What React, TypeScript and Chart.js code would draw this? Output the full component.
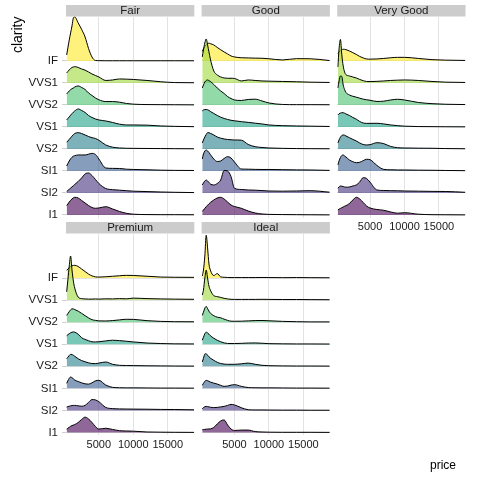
import React, { useEffect, useRef } from "react";
import { Chart, registerables } from "chart.js";

Chart.register(...registerables);
Chart.defaults.font.family = '"Liberation Sans", Arial, Helvetica, sans-serif';

// ---------- data ----------
const CLARITY = ["I1", "SI2", "SI1", "VS2", "VS1", "VVS2", "VVS1", "IF"];
const CUTS = ["Fair", "Good", "Very Good", "Premium", "Ideal"];
const PRICE = [326, 500, 700, 900, 1100, 1300, 1500, 2000, 2500, 3000, 3500, 4000, 4500, 5000, 6000, 7000, 8000, 9000, 10000, 12000, 14000, 16000, 18823];
const PRICE_TICKS = [5000, 10000, 15000];
const FILLS = ["#440154", "#46337E", "#365C8D", "#277F8E", "#1FA187", "#4AC16D", "#9FDA3A", "#FDE725"];

// ridge heights (density, arbitrary units) per clarity, read at PRICE
const FAIR_I1 = [9.5, 11, 13, 14.7, 16, 17.2, 17.7, 17, 14.5, 12, 9.5, 7.5, 6.7, 7, 8.3, 6, 3.5, 1.7, 0.8, 0.4, 0.3, 0.3, 0.2];
const FAIR_SI2 = [1.5, 2.5, 3.7, 4.9, 6.1, 7.3, 8.5, 11.5, 15, 19, 20, 17.5, 13.5, 9.5, 4.5, 3.3, 2.8, 2.3, 1.8, 1.4, 1, 0.7, 0.4];
const FAIR_SI1 = [5, 7.5, 10, 12.2, 13.7, 14.8, 15.3, 16, 16, 16, 16.8, 17.6, 16.5, 12, 3, 2.6, 2.5, 1.8, 1.5, 1.2, 0.8, 0.6, 0.5];
const FAIR_VS2 = [6.7, 8, 9.6, 11.2, 12.8, 14.3, 15.5, 16.3, 15.5, 14, 12.5, 11.3, 10.5, 8.8, 4, 1.8, 1, 0.7, 0.6, 0.5, 0.4, 0.3, 0.2];
const FAIR_VS1 = [7, 8.5, 10, 11.8, 13.3, 14.8, 16, 18, 16.5, 14.5, 11.5, 9.5, 8, 7, 6, 4.5, 2.8, 2, 2, 1.8, 1, 0.6, 0.3];
const FAIR_VVS2 = [11, 12.5, 14, 15.3, 16.3, 17, 18, 19, 17.5, 15.5, 12, 9.5, 7, 5.2, 3.4, 3.4, 2.8, 1.5, 0.8, 0.4, 0.3, 0.2, 0.1];
const FAIR_VVS1 = [10, 11.5, 13, 14.5, 15.5, 16, 16.3, 15.5, 14, 12.8, 11, 9, 7.5, 6, 2.5, 3, 4, 3.8, 3.5, 2.5, 1.2, 0.4, 0.2];
const FAIR_IF = [6, 13, 21, 28, 35, 43, 44, 38, 31.5, 24, 12.5, 4, 0.5, 0.3, 0.2, 0.2, 0.2, 0.2, 0.2, 0.2, 0.2, 0.2, 0.2];

const GOOD_I1 = [3.5, 5, 6.7, 8.3, 9.8, 11.2, 12.5, 15, 17, 17.7, 16, 13, 10, 8.5, 6.7, 4, 2, 1, 0.6, 0.4, 0.3, 0.2, 0.1];
const GOOD_SI2 = [8, 10, 12, 13, 12, 10.5, 9, 8, 9.5, 13, 22.5, 22, 16.5, 4.7, 3.5, 3, 2.8, 2.4, 2, 1.8, 2, 2.3, 0.8];
const GOOD_SI1 = [12, 17, 20, 21, 20, 18.5, 16.5, 12, 9.5, 10, 12.5, 14.3, 13, 9, 2, 1.8, 1.6, 1.5, 1.5, 1.3, 1.1, 1, 0.6];
const GOOD_VS2 = [6, 9, 12, 14.5, 16.3, 16.2, 15.7, 14, 12, 10.8, 10, 9.5, 9.2, 9, 8.8, 4.5, 2.3, 1.5, 1, 0.6, 0.4, 0.3, 0.2];
const GOOD_VS1 = [16, 17, 17.4, 17.5, 17.2, 16.5, 15.5, 13.5, 11.5, 9.8, 8.5, 7.5, 6.7, 6.2, 5.3, 4.6, 3.8, 3, 2, 1.3, 1, 0.8, 0.5];
const GOOD_VVS2 = [17, 20, 23, 24.5, 25, 24.3, 23.5, 20.5, 17, 14, 11.5, 8.4, 6.5, 5, 4.5, 5.5, 5.8, 4, 2, 0.5, 0.3, 0.3, 0.2];
const GOOD_VVS1 = [26, 33, 40, 44, 38, 31, 24, 12, 8, 6, 5, 4.7, 4.7, 4.5, 2, 3, 2.5, 2, 1.8, 1.5, 1.2, 0.8, 0.5];
const GOOD_IF = [9.5, 12, 14.5, 16.3, 17.5, 17.7, 17.3, 16, 13.5, 11.2, 9, 7, 5, 4, 3.2, 3, 2.8, 2.7, 2.2, 1, 2.3, 2.2, 0.4];

const VG_I1 = [5, 5.8, 6.6, 7.3, 8, 8.8, 9.3, 11.5, 15, 17.7, 16, 12.5, 9, 7, 5.5, 4.7, 3, 1.8, 2.3, 0.8, 0.3, 0.2, 0.1];
const VG_SI2 = [4.7, 6, 7, 6.8, 6.4, 6, 5.8, 6, 7, 8, 11, 15.3, 14.5, 10.8, 3, 2.5, 2.3, 2.2, 2, 1.8, 1.6, 1.5, 0.7];
const VG_SI1 = [6, 10, 13.5, 15.5, 16, 15, 14, 11, 9.3, 8.3, 8.7, 10.3, 11.7, 11.3, 5.5, 1.6, 1.2, 1, 1, 0.8, 0.7, 0.5, 0.3];
const VG_VS2 = [6, 9, 11.8, 13.5, 14, 13.8, 13, 11.3, 9.6, 8, 6, 4.5, 4, 4.3, 6.3, 5.3, 2.5, 1.3, 1, 0.8, 0.7, 0.4, 0.2];
const VG_VS1 = [12, 13.2, 13.9, 14.3, 14.2, 13.8, 13, 11.5, 9.5, 7.8, 5.5, 4, 3.6, 3.6, 3.7, 3, 2, 1.3, 0.8, 0.4, 0.3, 0.2, 0.1];
const VG_VVS2 = [17, 24, 29, 28.5, 20, 15.5, 12.5, 10, 8.7, 7.8, 6.8, 5.8, 5.2, 4.7, 3.5, 3.8, 5, 5.7, 5, 2.5, 1.3, 0.7, 0.4];
const VG_VVS1 = [16, 34, 43.5, 28, 17, 11, 8.3, 7, 6, 5, 3.5, 2.3, 1.5, 1.4, 1.6, 2, 2.5, 2.8, 3, 2.5, 1.5, 0.8, 0.5];
const VG_IF = [7.5, 9, 10.3, 11.2, 11.7, 11.6, 11.3, 10, 8.3, 6.5, 4.5, 3, 2, 1.8, 2, 2.5, 3.2, 3.6, 3.6, 2.5, 1.3, 0.8, 0.5];

const PREM_I1 = [3.3, 4.2, 5.2, 6.2, 6.9, 7.4, 7.9, 10, 13, 15.3, 13.5, 10, 6, 3.4, 4.2, 3, 1.8, 1.5, 1.3, 0.5, 0.3, 0.2, 0.1];
const PREM_SI2 = [3.3, 3.8, 4.2, 4.6, 4.8, 5, 5, 4.6, 4.2, 5, 8, 10.8, 10.5, 8.7, 3, 1.8, 1.5, 1.4, 1.3, 1.2, 1, 0.9, 0.6];
const PREM_SI1 = [5, 7.5, 10, 11.3, 10.7, 9.5, 8.3, 6.8, 5.5, 4.5, 4.2, 5.5, 7.5, 8, 3.3, 1, 0.6, 0.5, 0.5, 0.4, 0.3, 0.3, 0.2];
const PREM_VS2 = [7.5, 9, 10.8, 11.9, 11.8, 11, 10, 7.5, 5.7, 4.5, 3.5, 2.8, 2.7, 3.2, 4.3, 2, 1, 0.8, 0.7, 0.5, 0.4, 0.3, 0.2];
const PREM_VS1 = [8.5, 9.5, 10.5, 11.4, 12, 12.3, 12, 10, 6.5, 4.8, 3.5, 2.5, 2.3, 2.5, 3.3, 4, 3.6, 3, 2.3, 1.2, 0.7, 0.4, 0.3];
const PREM_VVS2 = [6.7, 8.5, 10.5, 12.3, 13.3, 13.2, 12.6, 11, 8.8, 6.5, 4.3, 2.5, 1.8, 1.3, 1.2, 1.6, 2.3, 2.9, 2.8, 1.5, 0.8, 0.5, 0.4];
const PREM_VVS1 = [8.3, 20, 34, 44, 30, 19, 12, 3, 1.5, 1.2, 1, 1, 1.2, 1, 1.3, 1.2, 1.5, 1.3, 2, 1.5, 1.2, 1, 0.8];
const PREM_IF = [7.7, 9, 10.3, 11.4, 12.2, 12.6, 12.7, 11.5, 9, 6.5, 4, 2.2, 1.2, 1, 1.3, 1.8, 2.3, 2.7, 2.6, 1.8, 1, 0.8, 0.7];

const IDEAL_I1 = [2.7, 2.9, 3.1, 3.3, 3.4, 3.5, 3.6, 5, 8.5, 11.5, 12.5, 7.5, 3.5, 2, 2.4, 2.4, 0.9, 0.5, 0.3, 0.2, 0.2, 0.2, 0.1];
const IDEAL_SI2 = [1.7, 2.8, 3.7, 4, 3.8, 3.5, 3.2, 2.8, 3, 3.5, 4, 5, 6, 5.5, 2.7, 0.7, 0.5, 0.5, 0.4, 0.3, 0.3, 0.2, 0.2];
const IDEAL_SI1 = [3, 5, 7, 8, 7.7, 7, 6.3, 5.2, 4.3, 3, 2, 2.3, 3.2, 3.7, 2, 0.8, 0.6, 0.5, 0.5, 0.4, 0.3, 0.3, 0.2];
const IDEAL_VS2 = [4.3, 8, 12.3, 12.5, 11, 9.5, 8.2, 6, 4, 2.8, 2.2, 2, 2, 2, 2.5, 3.2, 2, 1, 0.6, 0.4, 0.3, 0.3, 0.2];
const IDEAL_VS1 = [4, 7, 10.5, 12, 11.3, 10, 8.5, 6, 4, 2.5, 1.3, 0.8, 0.7, 0.7, 0.9, 1.2, 1.3, 1, 0.6, 0.4, 0.3, 0.3, 0.2];
const IDEAL_VVS2 = [6.7, 10, 14, 15.7, 13.5, 11, 9, 6.5, 5, 4.4, 3, 1.8, 1, 0.9, 1, 1.3, 1.6, 1.7, 1.4, 0.8, 0.5, 0.3, 0.3];
const IDEAL_VVS1 = [5, 10, 22, 30, 22, 14, 10, 4.5, 3.5, 2.7, 1.8, 1.2, 0.8, 0.7, 0.7, 0.7, 0.7, 0.8, 0.7, 0.6, 0.6, 0.5, 0.4];
const IDEAL_IF = [2, 8, 22, 42.7, 30, 14, 8, 2.5, 4.5, 1.2, 0.8, 0.6, 0.5, 0.5, 0.5, 0.5, 0.5, 0.6, 0.5, 0.4, 0.5, 0.4, 0.3];

const DENSITY: Record<string, number[][]> = {
  Fair: [FAIR_I1, FAIR_SI2, FAIR_SI1, FAIR_VS2, FAIR_VS1, FAIR_VVS2, FAIR_VVS1, FAIR_IF],
  Good: [GOOD_I1, GOOD_SI2, GOOD_SI1, GOOD_VS2, GOOD_VS1, GOOD_VVS2, GOOD_VVS1, GOOD_IF],
  "Very Good": [VG_I1, VG_SI2, VG_SI1, VG_VS2, VG_VS1, VG_VVS2, VG_VVS1, VG_IF],
  Premium: [PREM_I1, PREM_SI2, PREM_SI1, PREM_VS2, PREM_VS1, PREM_VVS2, PREM_VVS1, PREM_IF],
  Ideal: [IDEAL_I1, IDEAL_SI2, IDEAL_SI1, IDEAL_VS2, IDEAL_VS1, IDEAL_VVS2, IDEAL_VVS1, IDEAL_IF],
};

// ---------- layout / style ----------
const HEIGHT_SCALE = 1 / 22;
const XMIN = 230;
const XMAX = 18860;
const YMIN = 0.886;
const YMAX = 10.02;
const COLS = [66, 201.6, 337.2];
const PANEL_W = 128.3;
const ROWS = [
  { top: 16.5, bottom: 217.5 },
  { top: 233.5, bottom: 435 },
];
const STRIP_H = 11.5;
const GRID = "#E3E3E3";
const TEXT = "#1A1A1A";
const ALPHA = 0.6;

type Facet = { cut: string; col: number; row: number; yLabels: boolean; xLabels: boolean; yTitle: boolean };
const FACETS: Facet[] = [
  { cut: CUTS[0], col: 0, row: 0, yLabels: true, xLabels: false, yTitle: true },
  { cut: CUTS[1], col: 1, row: 0, yLabels: false, xLabels: false, yTitle: false },
  { cut: CUTS[2], col: 2, row: 0, yLabels: false, xLabels: true, yTitle: false },
  { cut: CUTS[3], col: 0, row: 1, yLabels: true, xLabels: true, yTitle: false },
  { cut: CUTS[4], col: 1, row: 1, yLabels: false, xLabels: true, yTitle: false },
];

function rgba(hex: string, a: number) {
  const n = parseInt(hex.slice(1), 16);
  return `rgba(${(n >> 16) & 255},${(n >> 8) & 255},${n & 255},${a})`;
}

const stripPlugin = {
  id: "strip",
  beforeDraw(chart: any, _args: any, opts: any) {
    const { ctx, chartArea } = chart;
    ctx.save();
    ctx.fillStyle = "#CCCCCC";
    ctx.fillRect(chartArea.left, chartArea.top - STRIP_H, chartArea.right - chartArea.left, STRIP_H);
    ctx.fillStyle = TEXT;
    ctx.font = '11.5px "Liberation Sans", Arial, sans-serif';
    ctx.textAlign = "center";
    ctx.textBaseline = "middle";
    ctx.fillText(opts.text, (chartArea.left + chartArea.right) / 2, chartArea.top - STRIP_H / 2 + 0.5);
    ctx.restore();
  },
};

function FacetChart({ f }: { f: Facet }) {
  const ref = useRef<HTMLCanvasElement>(null);
  useEffect(() => {
    const dens = DENSITY[f.cut];
    const yW = f.yLabels ? 60.4 : 0;
    const xH = f.xLabels ? 20 : 0;
    const left = COLS[f.col];
    const r = ROWS[f.row];
    const chart = new Chart(ref.current as HTMLCanvasElement, {
      type: "line",
      data: {
        datasets: CLARITY.map((c, i) => ({
          label: c,
          data: PRICE.map((p, j) => ({ x: p, y: i + 1 + dens[i][j] * HEIGHT_SCALE })),
          borderColor: "#000000",
          borderWidth: 1,
          backgroundColor: rgba(FILLS[i], ALPHA),
          fill: { value: i + 1 },
          pointRadius: 0,
          cubicInterpolationMode: "monotone",
        })),
      },
      options: {
        responsive: false,
        animation: false,
        devicePixelRatio: 1,
        events: [],
        layout: {
          padding: {
            left: left - yW,
            top: r.top,
            right: 480 - left - PANEL_W,
            bottom: 480 - r.bottom - xH,
          },
        },
        plugins: {
          legend: { display: false },
          tooltip: { enabled: false },
          strip: { text: f.cut },
        } as any,
        scales: {
          x: {
            type: "linear",
            min: XMIN,
            max: XMAX,
            afterBuildTicks: (a: any) => {
              a.ticks = PRICE_TICKS.map((v) => ({ value: v }));
            },
            afterFit: (s: any) => {
              s.height = xH;
            },
            grid: { color: GRID, lineWidth: 1, drawTicks: false },
            border: { display: false },
            ticks: {
              display: f.xLabels,
              autoSkip: false,
              maxRotation: 0,
              padding: 3,
              color: TEXT,
              font: { size: 11 },
              callback: (v: any) => String(v),
            },
          },
          y: {
            type: "linear",
            min: YMIN,
            max: YMAX,
            afterBuildTicks: (a: any) => {
              a.ticks = CLARITY.map((_, i) => ({ value: i + 1 }));
            },
            afterFit: (s: any) => {
              s.width = yW;
            },
            grid: { color: GRID, lineWidth: 1, drawTicks: f.yLabels, tickLength: 4, tickColor: "#CFCFCF" },
            border: { display: false },
            ticks: {
              display: f.yLabels,
              autoSkip: false,
              padding: 4,
              color: TEXT,
              font: { size: 11.5 },
              callback: (v: any) => CLARITY[Math.round(v) - 1],
            },
            title: {
              display: f.yTitle,
              text: "clarity",
              align: "end",
              color: "#000000",
              font: { size: 14 },
              padding: { top: 4, bottom: 0 },
            },
          },
        },
      } as any,
      plugins: [stripPlugin as any],
    });
    return () => chart.destroy();
  }, []);
  return <canvas ref={ref} width={480} height={480} style={{ position: "absolute", left: 0, top: 0, width: 480, height: 480 }} />;
}

export default function App() {
  return (
    <div style={{ position: "absolute", left: 0, top: 0, width: 480, height: 480, background: "#FFFFFF", overflow: "hidden" }}>
      {FACETS.map((f) => (
        <FacetChart key={f.cut} f={f} />
      ))}
      <div
        style={{
          position: "absolute",
          left: 0,
          top: 456,
          width: 456,
          textAlign: "right",
          font: '12px "Liberation Sans", Arial, sans-serif',
          lineHeight: "18px",
          color: "#000000",
        }}
      >
        price
      </div>
    </div>
  );
}
